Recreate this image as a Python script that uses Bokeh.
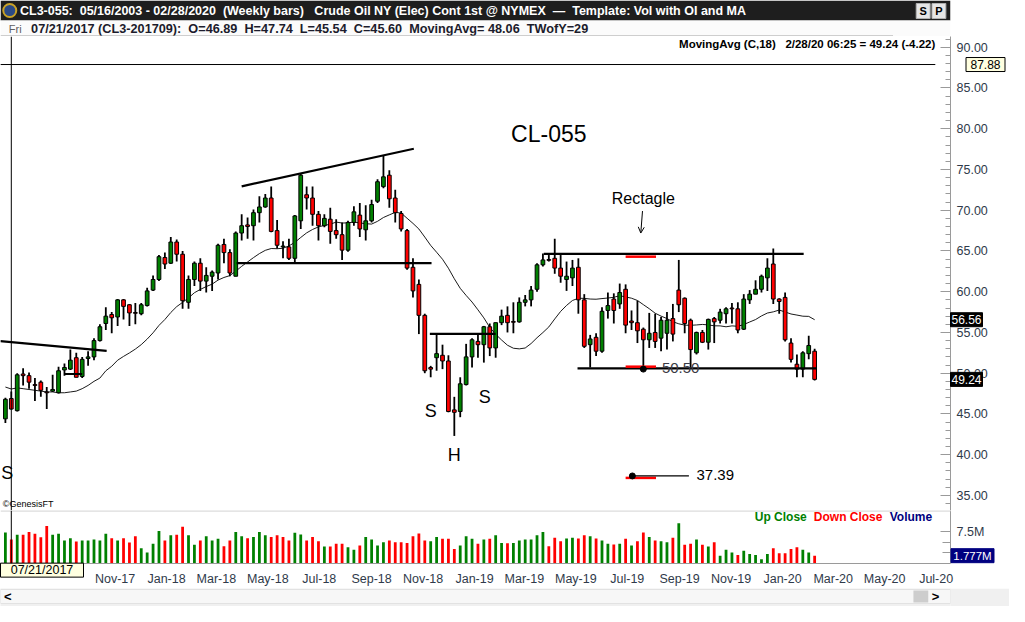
import numpy as np
import pandas as pd
from bokeh.plotting import figure
from bokeh.layouts import column
from bokeh.models import (Range1d, FixedTicker, DatetimeTickFormatter, NumeralTickFormatter,
                          Span, Arrow, OpenHead, ColumnDataSource)
from bokeh.embed import file_html
from bokeh.resources import INLINE
from bokeh.core.properties import value

FONT = "Liberation Sans"
DAY = 86400000.0

# ---------------- data (weekly bars, first bar week ending 2017-07-14) ----------------
first_bar = "2017-07-14"

opens = [44.4, 46.89, 45.4, 49.9, 49.7, 48.6, 48.9, 47.7, 47.8, 47.6,
         50.4, 50.5, 51.9, 49.6, 51.8, 52.0, 54.0, 56.1, 57.2, 56.9,
         59.0, 58.4, 57.45, 57.3, 58.3, 60.2, 61.5, 64.2, 63.5, 66.1,
         64.6, 58.7, 61.5, 63.5, 61.3, 61.9, 62.3, 65.8, 64.8, 61.9,
         67.2, 68.2, 68.1, 69.7, 70.4, 71.5, 67.5, 65.5, 65.5, 64.1,
         68.7, 71.9, 71.5, 69.5, 68.1, 68.9, 67.5, 67.0, 65.1, 68.5,
         69.4, 67.6, 68.7, 71.1, 72.9, 74.3, 71.5, 69.6, 67.5, 63.0,
         60.9, 57.1, 50.7, 51.9, 52.2, 51.5, 45.5, 45.3, 48.6, 52.0,
         53.9, 53.5, 55.7, 53.1, 56.2, 57.1, 56.35, 56.3, 58.7, 59.0,
         60.3, 63.3, 63.95, 64.1, 62.9, 61.5, 61.7, 63.0, 59.0, 53.5,
         54.4, 52.7, 57.7, 59.1, 58.5, 60.3, 56.4, 56.2, 55.4, 54.1,
         55.0, 54.3, 54.9, 56.7, 60.2, 59.2, 56.5, 52.5, 55.0, 53.8,
         56.7, 56.5, 57.3, 58.0, 57.9, 55.4, 59.0, 59.7, 60.3, 61.7,
         63.4, 59.1, 59.3, 53.7, 51.1, 50.5, 52.4, 52.7]

highs = [47.0, 47.74, 50.0, 50.6, 50.1, 49.4, 49.1, 48.3, 49.8, 50.8,
         51.2, 52.9, 52.5, 52.0, 52.7, 54.3, 56.0, 58.1, 57.5, 59.1,
         59.1, 58.5, 58.6, 58.6, 60.5, 62.0, 64.5, 64.8, 66.7, 66.4,
         65.0, 62.0, 63.7, 64.1, 63.0, 62.6, 65.9, 66.5, 65.2, 67.4,
         69.5, 69.1, 70.1, 71.7, 72.0, 72.9, 68.8, 66.2, 66.5, 69.4,
         74.5, 72.9, 72.9, 69.9, 69.5, 70.3, 68.9, 68.5, 68.7, 70.5,
         70.9, 70.6, 71.3, 73.8, 76.7, 74.9, 72.5, 69.9, 67.7, 64.1,
         61.5, 57.3, 50.9, 54.9, 53.5, 52.2, 47.1, 49.5, 53.6, 54.3,
         54.7, 55.8, 56.1, 56.2, 57.8, 58.2, 58.7, 59.3, 59.6, 60.7,
         63.5, 64.7, 64.5, 66.5, 64.5, 63.7, 63.9, 64.1, 59.7, 54.7,
         54.9, 58.1, 59.9, 59.8, 61.0, 60.9, 57.7, 58.9, 55.6, 57.4,
         57.3, 56.9, 57.5, 58.5, 63.9, 59.3, 56.7, 55.1, 55.3, 56.7,
         56.9, 57.9, 58.1, 58.6, 58.7, 59.7, 60.2, 61.4, 62.1, 64.1,
         65.3, 59.2, 59.9, 54.3, 52.3, 52.7, 54.6, 53.0]

lows = [43.9, 45.54, 45.3, 48.5, 48.1, 46.6, 47.1, 45.6, 47.7, 47.5,
        49.7, 50.4, 49.5, 49.4, 50.9, 51.6, 53.9, 55.3, 54.9, 55.8,
        56.6, 55.8, 56.0, 57.1, 58.2, 60.1, 61.3, 62.8, 63.4, 63.7,
        57.9, 57.9, 60.7, 60.1, 59.9, 60.1, 61.5, 63.5, 61.9, 61.9,
        66.3, 66.5, 66.3, 68.5, 70.3, 67.3, 65.3, 64.1, 63.9, 63.5,
        67.7, 70.1, 68.1, 66.3, 67.9, 65.9, 66.5, 63.9, 64.9, 68.1,
        66.7, 66.3, 68.5, 70.9, 72.7, 70.3, 68.5, 67.4, 62.7, 59.3,
        54.8, 50.0, 49.5, 50.3, 50.5, 45.2, 42.3, 44.6, 48.5, 50.7,
        51.9, 51.3, 52.1, 51.9, 55.9, 55.0, 54.9, 56.2, 58.2, 58.2,
        60.0, 63.1, 63.7, 62.2, 61.1, 60.1, 60.7, 57.3, 53.1, 50.7,
        52.1, 52.5, 56.7, 56.1, 57.9, 54.9, 55.3, 53.7, 50.5, 53.1,
        53.1, 52.7, 52.9, 53.9, 57.5, 54.9, 50.7, 52.3, 53.7, 52.9,
        53.7, 56.1, 56.1, 56.1, 54.9, 55.3, 58.5, 59.7, 59.9, 60.1,
        58.5, 57.3, 53.9, 51.3, 49.5, 49.5, 51.7, 49.1]

closes = [46.8, 45.60, 49.8, 49.7, 48.9, 48.5, 47.9, 47.6, 48.0, 50.3,
          50.7, 51.6, 49.5, 51.7, 52.0, 54.0, 55.7, 57.0, 56.8, 59.0,
          58.2, 57.4, 57.35, 58.4, 60.1, 61.5, 64.3, 63.4, 66.1, 64.6,
          58.9, 61.5, 63.5, 61.3, 62.0, 62.4, 65.7, 64.8, 62.3, 67.2,
          68.1, 68.0, 69.7, 70.4, 71.5, 67.4, 65.7, 65.6, 64.1, 69.3,
          74.3, 71.5, 69.5, 68.1, 69.0, 67.4, 67.0, 65.1, 68.5, 69.8,
          67.7, 68.7, 70.7, 73.5, 74.1, 71.4, 69.7, 67.7, 62.9, 60.1,
          57.1, 50.3, 50.5, 52.4, 51.5, 45.3, 45.2, 48.7, 52.0, 54.1,
          53.5, 55.7, 53.1, 56.2, 57.0, 56.2, 56.25, 58.7, 59.0, 60.2,
          63.3, 63.9, 63.85, 62.9, 61.9, 61.9, 62.9, 59.0, 53.3, 54.2,
          52.7, 57.6, 58.3, 57.7, 59.9, 55.9, 56.2, 55.2, 54.1, 54.9,
          53.9, 56.5, 56.5, 54.8, 58.4, 56.1, 52.9, 55.0, 53.8, 56.6,
          56.3, 57.5, 57.9, 57.9, 55.3, 59.1, 59.7, 60.3, 61.9, 62.9,
          59.1, 58.8, 54.1, 51.7, 50.5, 52.5, 53.4, 49.24]

# weekly volume, millions of contracts
volume = [7.36, 5.65, 6.81, 6.81, 7.49, 7.02, 6.19, 8.93, 6.81, 7.02,
          5.44, 5.99, 5.17, 5.44, 5.44, 5.65, 5.44, 7.02, 5.99, 5.44,
          5.99, 4.96, 6.47, 3.59, 2.57, 4.62, 7.70, 5.44, 6.67, 6.81,
          8.73, 6.67, 4.41, 5.44, 6.47, 5.44, 5.85, 4.07, 5.44, 7.49,
          6.47, 5.99, 6.26, 7.49, 6.67, 6.26, 6.67, 6.26, 5.44, 7.29,
          6.88, 5.44, 6.26, 5.24, 4.00, 4.00, 4.62, 4.62, 3.80, 3.18,
          4.21, 6.26, 5.65, 4.21, 5.03, 5.44, 5.03, 5.03, 4.83, 6.47,
          7.08, 5.44, 5.24, 6.26, 5.85, 5.85, 3.39, 4.21, 6.47, 5.85,
          4.62, 5.65, 5.85, 6.67, 4.83, 4.76, 4.83, 5.44, 5.65, 5.65,
          6.67, 7.49, 4.07, 6.06, 5.24, 5.92, 6.06, 5.92, 6.67, 6.47,
          5.92, 5.44, 4.62, 4.48, 4.62, 5.85, 4.21, 5.24, 7.36, 6.26,
          5.44, 5.24, 5.03, 6.06, 9.55, 4.41, 4.62, 5.65, 4.41, 4.00,
          5.03, 1.75, 3.18, 2.57, 1.95, 2.98, 2.16, 1.95, 0.92, 2.16,
          3.59, 2.36, 2.36, 3.39, 3.80, 3.18, 2.57, 1.777]

# 18-week moving average for the first 17 bars (window starts before view)
ma_warmup = [48.3, 48.06, 48.2, 48.1, 48.0, 47.9, 47.8, 47.7, 47.7, 47.6,
             47.6, 47.7, 47.8, 48.1, 48.5, 49.0, 49.4]
ma_period = 18

# axis ticks
price_ticks = [35, 40, 45, 50, 55, 60, 65, 70, 75, 80, 85, 90]
month_ticks = ["2017-11-01", "2018-01-01", "2018-03-01", "2018-05-01", "2018-07-01",
               "2018-09-01", "2018-11-01", "2019-01-01", "2019-03-01", "2019-05-01",
               "2019-07-01", "2019-09-01", "2019-11-01", "2020-01-01", "2020-03-01",
               "2020-05-01", "2020-07-01"]

# drawn trend lines
trend_x0 = ["2017-07-08", "2017-09-22", "2018-04-20", "2018-04-14", "2018-11-29", "2019-04-13", "2019-05-23"]
trend_y0 = [53.94, 49.9, 72.93, 63.52, 54.82, 64.64, 50.58]
trend_x1 = ["2017-11-11", "2017-10-13", "2018-11-10", "2018-12-01", "2019-02-15", "2020-02-15", "2020-03-01"]
trend_y1 = [52.74, 49.9, 77.54, 63.52, 54.82, 64.64, 50.58]

# red target marks
target_levels = [64.3, 50.8, 37.15]
target_x0 = "2019-07-19"
target_x1 = "2019-08-24"

# marker dots
dot_x = ["2019-08-09", "2019-07-27"]
dot_y = [50.50, 37.39]
level_line_37 = ("2019-07-27", "2019-10-02", 37.39)
level_line_88 = ("2017-07-08", "2020-07-20", 87.88)

cursor_date = "2017-07-21"
last_close = 49.24
last_volume = 1.777

# ---------------- derived ----------------
ts = lambda s: pd.Timestamp(s)
weeks = pd.date_range(first_bar, periods=len(closes), freq="7D")
n = len(closes)
ma = list(ma_warmup) + [float(np.mean(closes[i - ma_period + 1:i + 1])) for i in range(ma_period - 1, n)]

GREEN = "#008000"
RED = "#ff0000"
body_col = [GREEN if c >= o else RED for o, c in zip(opens, closes)]
vol_col = [GREEN] + [GREEN if closes[i] >= closes[i - 1] else RED for i in range(1, n)]

src = ColumnDataSource(dict(t=weeks, o=opens, h=highs, l=lows, c=closes,
                            top=np.maximum(opens, closes), bot=np.minimum(opens, closes),
                            col=body_col))

x_start = ts(first_bar) - pd.Timedelta(days=5.8)
x_end = ts(first_bar) + pd.Timedelta(days=1120)
xr = Range1d(x_start, x_end)

W = 1009
RB = 59  # right border (axis)
FRAME_W = W - RB
PX_PER_DAY = FRAME_W / ((x_end - x_start) / pd.Timedelta(days=1))


def right_of_frame(px):
    """date position px pixels right of the plotting frame's right edge"""
    return x_end + pd.Timedelta(days=px / PX_PER_DAY)


# ---------------- header ----------------
hdr = figure(width=W, height=36, x_range=Range1d(0, 1025), y_range=Range1d(36, 0),
             toolbar_location=None, output_backend="svg", min_border=0,
             x_axis_location=None, y_axis_location=None, outline_line_color=None)
hdr.grid.visible = False
hdr.quad(left=0, right=1025, top=0, bottom=20, fill_color="#1e1e1e", line_color=None)
hdr.quad(left=0, right=1025, top=20, bottom=36, fill_color="#fbfbfb", line_color=None)
hdr.scatter(x=[10], y=[10], size=13, fill_color="#2b4a86", line_color="#c9a227", line_width=2)
hdr.text(x=[21], y=[10.5],
         text=["CL3-055:\u00a0 05/16/2003 - 02/28/2020\u00a0 (Weekly bars)\u00a0\u00a0 Crude Oil NY (Elec) Cont 1st @ NYMEX\u00a0 \u2014\u00a0 Template: Vol with OI and MA"],
         text_font=value(FONT), text_font_style="bold", text_font_size="12.5px",
         text_color="white", text_baseline="middle", text_align="left")
hdr.quad(left=[988, 1005], right=[1003, 1020], top=3, bottom=18, fill_color="#e6e6e6", line_color="#b0b0b0")
hdr.text(x=[995.5, 1012.5], y=[10.5, 10.5], text=["S", "P"], text_font=value(FONT),
         text_font_style="bold", text_font_size="11px", text_color="black",
         text_align="center", text_baseline="middle")
hdr.text(x=[9], y=[28.5], text=["Fri"], text_font=value(FONT), text_font_size="11px",
         text_color="#606060", text_baseline="middle")
hdr.text(x=[33], y=[28.5],
         text=["07/21/2017 (CL3-201709):\u00a0 O=46.89\u00a0 H=47.74\u00a0 L=45.54\u00a0 C=45.60\u00a0 MovingAvg= 48.06\u00a0 TWofY=29"],
         text_font=value(FONT), text_font_style="bold", text_font_size="12.7px",
         text_color="#1c1c2c", text_baseline="middle")
hdr.segment(x0=[0], y0=[35.5], x1=[963], y1=[35.5], line_color="#a0a0a0", line_width=1)

# ---------------- main price panel ----------------
pa = figure(width=W, height=474, x_range=xr, y_range=Range1d(33.15, 91.32),
            x_axis_location=None, y_axis_location="right",
            toolbar_location=None, output_backend="svg",
            min_border_left=0, min_border_right=RB, min_border_top=0, min_border_bottom=0,
            outline_line_color=None, background_fill_color="white", border_fill_color="white")
pa.grid.visible = False
ya = pa.yaxis[0]
ya.ticker = FixedTicker(ticks=price_ticks, minor_ticks=list(range(33, 92)))
ya.formatter = NumeralTickFormatter(format="0.00")
ya.major_tick_in = 10
ya.major_tick_out = 0
ya.minor_tick_in = 5
ya.minor_tick_out = 0
ya.axis_line_color = "#9a9a9a"
ya.major_tick_line_color = "#9a9a9a"
ya.minor_tick_line_color = "#9a9a9a"
ya.major_label_text_font = FONT
ya.major_label_text_font_size = "12.5px"
ya.major_label_text_color = "#2f3a4a"
ya.major_label_standoff = 6

# level line 87.88
pa.segment(x0=[ts(level_line_88[0])], y0=[level_line_88[2]], x1=[ts(level_line_88[1])],
           y1=[level_line_88[2]], line_color="black", line_width=1)

# moving average
pa.line(x=weeks, y=ma, line_color="black", line_width=0.9)

# candles
pa.segment(x0="t", y0="l", x1="t", y1="h", source=src, line_color="black", line_width=1.8)
pa.vbar(x="t", top="top", bottom="bot", width=4.4 * DAY, fill_color="col",
        line_color="black", line_width=1, source=src)

# trend lines
pa.segment(x0=[ts(s) for s in trend_x0], y0=trend_y0, x1=[ts(s) for s in trend_x1], y1=trend_y1,
           line_color="black", line_width=2.2)

# red target marks
pa.segment(x0=[ts(target_x0)] * 3, y0=target_levels, x1=[ts(target_x1)] * 3, y1=target_levels,
           line_color=RED, line_width=2.5)
pa.segment(x0=[ts(level_line_37[0])], y0=[level_line_37[2]], x1=[ts(level_line_37[1])],
           y1=[level_line_37[2]], line_color="black", line_width=1.2)
pa.scatter(x=[ts(s) for s in dot_x], y=dot_y, size=6, fill_color="black", line_color="black")

# cursor line
pa.add_layout(Span(location=ts(cursor_date).value / 1e6, dimension="height",
                   line_color="black", line_width=1))


# annotation texts
def add_text(fig, x, y, txt, size, color="black", align="center", baseline="middle", style="normal"):
    fig.text(x=[ts(x)], y=[y], text=[txt], text_font=value(FONT), text_font_size=size,
             text_color=color, text_align=align, text_baseline=baseline, text_font_style=style)


add_text(pa, "2019-04-19", 79.3, "CL-055", "23px")
add_text(pa, "2019-08-09", 71.4, "Rectagle", "16px")
add_text(pa, "2018-11-30", 45.4, "S", "18px")
add_text(pa, "2018-12-28", 39.9, "H", "18px")
add_text(pa, "2019-02-02", 47.1, "S", "18px")
add_text(pa, "2017-07-09", 37.7, "S", "18px", align="left")
add_text(pa, "2019-08-31", 50.6, "50.50", "15px", color="#3a3a44", align="left")
add_text(pa, "2019-10-11", 37.45, "37.39", "15px", align="left")
add_text(pa, "2017-07-11", 34.0, "\u00a9GenesisFT", "9px", align="left")
add_text(pa, "2020-07-20", 90.35, "MovingAvg (C,18)\u00a0\u00a0 2/28/20 06:25 = 49.24 (-4.22)", "11.5px",
         align="right", style="bold")
pa.add_layout(Arrow(end=OpenHead(size=6, line_width=1, line_color="black"),
                    x_start=ts("2019-08-08").value / 1e6, y_start=69.9,
                    x_end=ts("2019-08-06").value / 1e6, y_end=67.2,
                    line_color="black", line_width=1))


# value boxes drawn over the axis area (unclipped annotation level)
def value_box(fig, px_center, y, txt, w, fill, tcolor, border=None, h=14, size="12px"):
    xc = right_of_frame(px_center)
    fig.rect(x=[xc], y=[y], width=w, height=h, width_units="screen", height_units="screen",
             fill_color=fill, line_color=border if border else fill, line_width=1, level="annotation")
    fig.text(x=[xc], y=[y], text=[txt], text_font=value(FONT), text_font_size=size,
             text_color=tcolor, text_align="center", text_baseline="middle", level="annotation")


value_box(pa, 35, 87.88, "87.88", 39, "#ffffe0", "black", border="black")
value_box(pa, 16, ma[-1], f"{ma[-1]:.2f}", 32, "black", "white")
value_box(pa, 16, last_close, f"{last_close:.2f}", 32, "black", "white")

# ---------------- volume panel ----------------
pb = figure(width=W, height=78, x_range=xr, y_range=Range1d(-0.1, 12.63),
            x_axis_type="datetime", x_axis_location="below", y_axis_location="right",
            toolbar_location=None, output_backend="svg",
            min_border_left=0, min_border_right=RB, min_border_top=0, min_border_bottom=18,
            outline_line_color=None, background_fill_color="white", border_fill_color="white")
pb.grid.visible = False
pb.add_layout(Span(location=12.55, dimension="width", line_color="#dcdcdc", line_width=2))
pb.vbar(x=weeks, top=volume, width=3.3 * DAY, fill_color=vol_col, line_color=None)
pb.add_layout(Span(location=ts(cursor_date).value / 1e6, dimension="height",
                   line_color="black", line_width=1))

yb = pb.yaxis[0]
yb.ticker = FixedTicker(ticks=[7.5], minor_ticks=[2.5, 5.0])
yb.major_label_overrides = {7.5: "7.5M"}
yb.major_tick_in = 10
yb.major_tick_out = 0
yb.minor_tick_in = 8
yb.minor_tick_out = 0
yb.axis_line_color = "#9a9a9a"
yb.major_tick_line_color = "#9a9a9a"
yb.minor_tick_line_color = "#9a9a9a"
yb.major_label_text_font = FONT
yb.major_label_text_font_size = "12.5px"
yb.major_label_text_color = "#2f3a4a"
yb.major_label_standoff = 6

xa = pb.xaxis[0]
xa.ticker = FixedTicker(ticks=[(ts(m) + pd.Timedelta(days=20)).value / 1e6 for m in month_ticks])
xa.formatter = DatetimeTickFormatter(days="%b-%y", months="%b-%y", years="%b-%y",
                                     hours="%b-%y", minutes="%b-%y")
xa.major_tick_line_color = None
xa.minor_tick_line_color = None
xa.axis_line_color = "#9a9a9a"
xa.major_label_text_font = FONT
xa.major_label_text_font_size = "12.5px"
xa.major_label_text_color = "#2f3a4a"
xa.major_label_standoff = 2

add_text(pb, "2019-12-19", 11.0, "Up Close", "12px", color=GREEN, align="left", style="bold")
add_text(pb, "2020-02-27", 11.0, "Down Close", "12px", color=RED, align="left", style="bold")
add_text(pb, "2020-05-27", 11.0, "Volume", "12px", color="#000080", align="left", style="bold")

value_box(pb, 22, last_volume, f"{last_volume:.3f}M", 43, "#000080", "white", size="11.5px")

# cursor date box below the volume frame
VOL_PX_PER_UNIT = 60 / (12.63 + 0.1)
cur_xc = x_start + pd.Timedelta(days=41.5 / PX_PER_DAY)
cur_yc = -0.1 - 7.5 / VOL_PX_PER_UNIT
pb.rect(x=[cur_xc], y=[cur_yc], width=83, height=14, width_units="screen", height_units="screen",
        fill_color="#ffffe0", line_color="black", line_width=1, level="annotation")
pb.text(x=[cur_xc], y=[cur_yc], text=["07/21/2017"], text_font=value(FONT), text_font_size="12.5px",
        text_color="black", text_align="center", text_baseline="middle", level="annotation")

# ---------------- scrollbar strip ----------------
ps = figure(width=W, height=18, x_range=Range1d(0, 1025), y_range=Range1d(18, 0),
            toolbar_location=None, output_backend="svg", min_border=0,
            x_axis_location=None, y_axis_location=None, outline_line_color=None,
            background_fill_color="#f0f0f0", border_fill_color="#f0f0f0")
ps.grid.visible = False
ps.quad(left=0, right=1025, top=1, bottom=15, fill_color="#f7f7f7", line_color="#e2e2e2")
ps.quad(left=[985], right=[1001], top=[2], bottom=[14], fill_color="#cdcdcd", line_color=None)
ps.text(x=[8, 1009], y=[8, 8], text=["<", ">"], text_font=value(FONT), text_font_style="bold",
        text_font_size="13px", text_color="black", text_align="center", text_baseline="middle")

layout = column(hdr, pa, pb, ps, spacing=0)
open("out.html", "w").write(file_html(layout, INLINE))
